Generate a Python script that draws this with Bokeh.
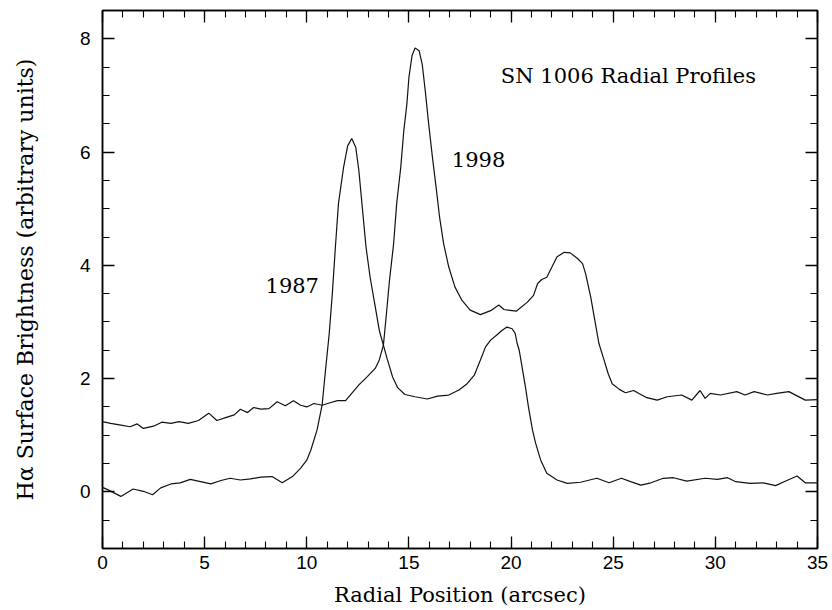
from bokeh.plotting import figure
from bokeh.models import LinearAxis, SingleIntervalTicker, Range1d, Label, CustomLabelingPolicy
from bokeh.embed import file_html
from bokeh.resources import INLINE

# H-alpha radial profiles of SN 1006 (arbitrary units) versus radial position (arcsec)
x_1987 = [0.0, 0.25, 0.9, 1.5, 2.0, 2.45, 2.85, 3.35, 3.8, 4.3, 4.8, 5.3, 5.8, 6.25, 6.75, 7.25,
          7.75, 8.3, 8.8, 9.3, 9.7, 10.0, 10.2, 10.5, 10.75, 10.9, 11.1, 11.25, 11.4, 11.55, 11.8,
          12.0, 12.2, 12.4, 12.55, 12.7, 12.9, 13.1, 13.35, 13.55, 13.75, 13.95, 14.2, 14.45, 14.8,
          15.3, 15.9, 16.4, 16.95, 17.45, 17.85, 18.2, 18.5, 18.75, 19.0, 19.3, 19.55, 19.8, 20.05,
          20.2, 20.3, 20.4, 20.55, 20.7, 20.85, 21.05, 21.2, 21.45, 21.75, 22.25, 22.75, 23.4, 24.2,
          24.8, 25.4, 25.85, 26.35, 26.85, 27.45, 27.95, 28.6, 29.5, 30.1, 30.6, 31.0, 31.7, 32.35,
          32.95, 33.5, 34.0, 34.4, 35.0]
y_1987 = [0.08, 0.04, -0.08, 0.05, 0.01, -0.05, 0.07, 0.14, 0.16, 0.22, 0.18, 0.14, 0.20, 0.24, 0.21, 0.23,
          0.26, 0.27, 0.16, 0.27, 0.42, 0.56, 0.74, 1.09, 1.53, 2.09, 2.80, 3.50, 4.32, 5.09, 5.73,
          6.11, 6.24, 6.08, 5.67, 5.09, 4.32, 3.79, 3.27, 2.85, 2.59, 2.33, 2.03, 1.84, 1.72,
          1.68, 1.64, 1.69, 1.71, 1.80, 1.91, 2.06, 2.33, 2.56, 2.68, 2.77, 2.85, 2.91, 2.88,
          2.80, 2.62, 2.50, 2.18, 1.86, 1.50, 1.09, 0.86, 0.56, 0.33, 0.21, 0.15, 0.17, 0.24,
          0.16, 0.24, 0.18, 0.12, 0.16, 0.24, 0.25, 0.19, 0.24, 0.22, 0.25, 0.18, 0.15, 0.16,
          0.11, 0.20, 0.28, 0.16, 0.16]

x_1998 = [0.0, 0.4, 0.9, 1.35, 1.7, 2.0, 2.5, 2.9, 3.35, 3.75, 4.2, 4.7, 5.2, 5.6, 6.1, 6.45, 6.75,
          7.1, 7.4, 7.75, 8.15, 8.55, 8.95, 9.35, 9.7, 10.0, 10.35, 10.75, 11.1, 11.5, 11.9, 12.2,
          12.55, 12.95, 13.35, 13.55, 13.75, 13.9, 14.05, 14.25, 14.4, 14.6, 14.75, 14.9, 15.0,
          15.15, 15.3, 15.5, 15.65, 15.8, 15.95, 16.15, 16.35, 16.5, 16.7, 16.95, 17.25, 17.6,
          18.0, 18.5, 19.0, 19.4, 19.65, 20.25, 20.8, 21.1, 21.3, 21.5, 21.75, 22.0, 22.25, 22.6,
          22.9, 23.25, 23.5, 23.65, 23.9, 24.1, 24.3, 24.55, 24.75, 24.95, 25.3, 25.6, 26.0,
          26.35, 26.6, 27.15, 27.65, 28.35, 28.85, 29.25, 29.5, 29.75, 30.25, 31.05, 31.45,
          31.9, 32.55, 33.0, 33.6, 34.4, 35.0]
y_1998 = [1.24, 1.21, 1.18, 1.15, 1.20, 1.12, 1.16, 1.23, 1.21, 1.24, 1.21, 1.26, 1.39, 1.26, 1.32, 1.36, 1.46,
          1.40, 1.49, 1.46, 1.47, 1.59, 1.52, 1.61, 1.53, 1.50, 1.56, 1.53, 1.57, 1.61, 1.61, 1.74,
          1.89, 2.03, 2.18, 2.33, 2.59, 3.15, 3.74, 4.38, 5.09, 5.73, 6.38, 6.85, 7.32,
          7.70, 7.84, 7.79, 7.55, 7.08, 6.55, 5.91, 5.32, 4.85, 4.38, 3.97, 3.62, 3.38,
          3.21, 3.13, 3.20, 3.30, 3.22, 3.19, 3.35, 3.47, 3.68, 3.75, 3.79, 3.97, 4.15, 4.23,
          4.22, 4.12, 4.03, 3.85, 3.44, 3.03, 2.62, 2.33, 2.09, 1.91, 1.81, 1.75, 1.79,
          1.72, 1.67, 1.62, 1.68, 1.71, 1.62, 1.79, 1.65, 1.74, 1.71, 1.77, 1.71,
          1.77, 1.71, 1.74, 1.77, 1.62, 1.63]

SERIF = "DejaVu Serif"
SANS = "Liberation Sans"

p = figure(width=832, height=610, output_backend="svg", toolbar_location=None,
           x_range=Range1d(0, 35), y_range=Range1d(-1, 8.5),
           x_axis_location=None, y_axis_location=None,
           min_border_left=102, min_border_right=15, min_border_top=10, min_border_bottom=62)
p.grid.visible = False
p.background_fill_color = "white"
p.border_fill_color = "white"
p.outline_line_color = "black"
p.outline_line_width = 1.5

# keep no tick labels on the mirrored top/right axes (ticks only)
no_labels = CustomLabelingPolicy(code="return new indices.constructor(indices.size)")


def make_axis(ticker, label=None, show_labels=True):
    ax = LinearAxis(ticker=ticker)
    ax.axis_line_color = "black"
    ax.axis_line_width = 1.5
    ax.major_tick_in = 12
    ax.major_tick_out = 0
    ax.minor_tick_in = 7
    ax.minor_tick_out = 0
    ax.major_tick_line_width = 1.3
    ax.minor_tick_line_width = 1.1
    ax.major_tick_line_color = "black"
    ax.minor_tick_line_color = "black"
    ax.major_label_text_font = SANS
    ax.major_label_text_font_size = "19px"
    ax.major_label_text_color = "black"
    if not show_labels:
        ax.major_label_policy = no_labels
        ax.major_label_text_font_size = "1px"
        ax.major_label_standoff = 0
    if label:
        ax.axis_label = label
        ax.axis_label_text_font = SERIF
        ax.axis_label_text_font_style = "normal"
        ax.axis_label_text_color = "black"
    return ax


xt = lambda: SingleIntervalTicker(interval=5, num_minor_ticks=5)
yt = lambda: SingleIntervalTicker(interval=2, num_minor_ticks=4)

bottom = make_axis(xt(), "Radial Position (arcsec)")
bottom.axis_label_text_font_size = "21px"
bottom.major_label_standoff = 7
bottom.axis_label_standoff = 11
left = make_axis(yt(), "H\u03b1 Surface Brightness (arbitrary units)")
left.axis_label_text_font_size = "22px"
left.major_label_standoff = 12
left.axis_label_standoff = 39
top = make_axis(xt(), show_labels=False)
right = make_axis(yt(), show_labels=False)

p.add_layout(bottom, "below")
p.add_layout(left, "left")
p.add_layout(top, "above")
p.add_layout(right, "right")

p.line(x_1987, y_1987, line_color="#111111", line_width=1.2)
p.line(x_1998, y_1998, line_color="#111111", line_width=1.2)

for txt, x, y in [("SN 1006 Radial Profiles", 19.5, 7.35), ("1998", 17.1, 5.87), ("1987", 7.98, 3.65)]:
    p.add_layout(Label(x=x, y=y, text=txt, text_font=SERIF, text_font_size="21px",
                       text_color="black", text_baseline="middle", text_align="left"))

open("out.html", "w").write(file_html(p, INLINE))
